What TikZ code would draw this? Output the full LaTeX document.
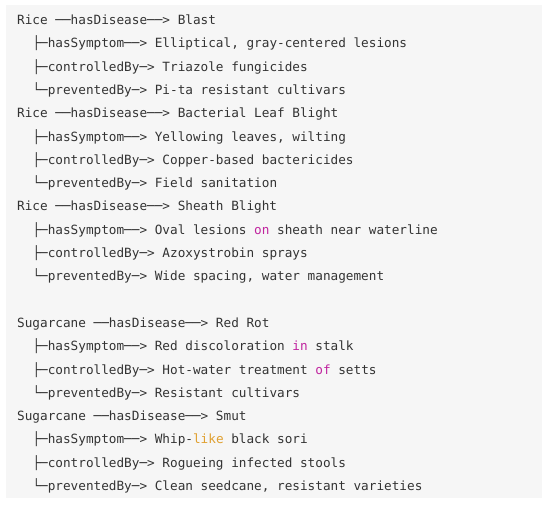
\documentclass[tikz,border=0pt]{standalone}
\usepackage{fontspec}
\setmonofont{DejaVu Sans Mono}
\definecolor{codebg}{HTML}{F6F6F6}
\definecolor{codetext}{HTML}{333333}
\definecolor{kwpink}{HTML}{C0249F}
\definecolor{kworange}{HTML}{E0A030}
\newcommand{\kwp}[1]{\textcolor{kwpink}{#1}}
\newcommand{\kwo}[1]{\textcolor{kworange}{#1}}
\tikzset{
  codeline/.style={anchor=base west, inner sep=0pt, text=codetext,
    font=\ttfamily\fontsize{12.7}{15}\selectfont},
}
\begin{document}
\begin{tikzpicture}[x=1pt,y=-1pt]
\useasboundingbox (0,0) rectangle (550,505);
\fill[codebg] (6,5) rectangle (542,498);
\def\xa{17}
\def\xb{32.3}
\node[codeline] (l0)  at (\xa, 24.6) {Rice ──hasDisease──> Blast};
\node[codeline] (l1)  at (\xb, 47.9) {├─hasSymptom──> Elliptical, gray-centered lesions};
\node[codeline] (l2)  at (\xb, 71.2) {├─controlledBy─> Triazole fungicides};
\node[codeline] (l3)  at (\xb, 94.5) {└─preventedBy─> Pi-ta resistant cultivars};
\node[codeline] (l4)  at (\xa,117.8) {Rice ──hasDisease──> Bacterial Leaf Blight};
\node[codeline] (l5)  at (\xb,141.1) {├─hasSymptom──> Yellowing leaves, wilting};
\node[codeline] (l6)  at (\xb,164.4) {├─controlledBy─> Copper-based bactericides};
\node[codeline] (l7)  at (\xb,187.7) {└─preventedBy─> Field sanitation};
\node[codeline] (l8)  at (\xa,211.0) {Rice ──hasDisease──> Sheath Blight};
\node[codeline] (l9)  at (\xb,234.3) {├─hasSymptom──> Oval lesions \kwp{on} sheath near waterline};
\node[codeline] (l10) at (\xb,257.6) {├─controlledBy─> Azoxystrobin sprays};
\node[codeline] (l11) at (\xb,280.9) {└─preventedBy─> Wide spacing, water management};
\node[codeline] (l13) at (\xa,327.5) {Sugarcane ──hasDisease──> Red Rot};
\node[codeline] (l14) at (\xb,350.8) {├─hasSymptom──> Red discoloration \kwp{in} stalk};
\node[codeline] (l15) at (\xb,374.1) {├─controlledBy─> Hot-water treatment \kwp{of} setts};
\node[codeline] (l16) at (\xb,397.4) {└─preventedBy─> Resistant cultivars};
\node[codeline] (l17) at (\xa,420.7) {Sugarcane ──hasDisease──> Smut};
\node[codeline] (l18) at (\xb,444.0) {├─hasSymptom──> Whip-\kwo{like} black sori};
\node[codeline] (l19) at (\xb,467.3) {├─controlledBy─> Rogueing infected stools};
\node[codeline] (l20) at (\xb,490.6) {└─preventedBy─> Clean seedcane, resistant varieties};
\end{tikzpicture}
\end{document}
